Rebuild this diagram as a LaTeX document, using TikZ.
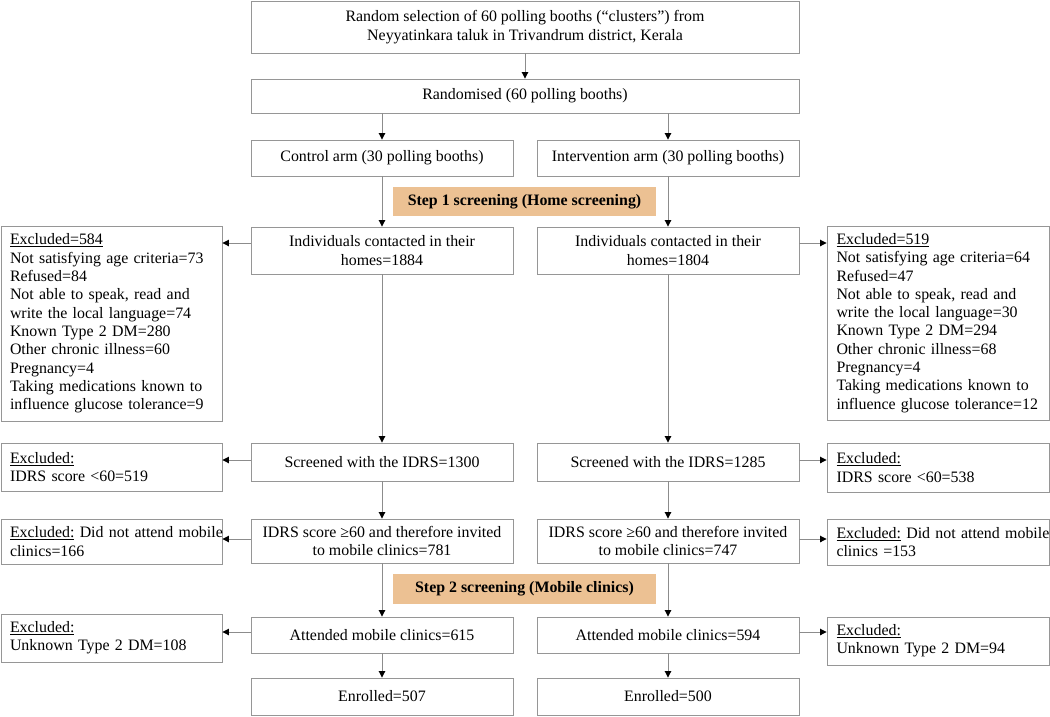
\documentclass[tikz,border=0pt]{standalone}
\usepackage{fontspec}
\setmainfont{Liberation Serif}
\usetikzlibrary{arrows.meta}
\definecolor{linegray}{RGB}{140,140,140}
\definecolor{boxgray}{RGB}{150,150,150}
\definecolor{steptan}{RGB}{236,193,147}
\begin{document}
\begin{tikzpicture}[x=1pt,y=-1pt,
  font=\fontsize{15.9pt}{18.3pt}\selectfont,
  box/.style={draw=boxgray, line width=0.9pt, inner sep=0pt, align=center},
  exbox/.style={box, align=left, text width=203pt},
  stepbox/.style={fill=steptan, inner sep=0pt, font=\fontsize{15.9pt}{18.3pt}\selectfont\bfseries},
  arr/.style={draw=linegray, line width=0.9pt, -{Triangle[length=6.5pt,width=6.5pt,color=black]}}
]
\useasboundingbox (0,0) rectangle (1050,716);

\node[box, minimum width=548pt, minimum height=52pt] (top) at (525,27) {Random selection of 60 polling booths (“clusters”) from\\Neyyatinkara taluk in Trivandrum district, Kerala};
\node[box, minimum width=548pt, minimum height=34pt] (rand) at (525,96) {Randomised (60 polling booths)};
\node[box, minimum width=262pt, minimum height=36pt] (ctrl) at (382,158) {Control arm (30 polling booths)};
\node[box, minimum width=262pt, minimum height=36pt] (intv) at (668,158) {Intervention arm (30 polling booths)};
\node[stepbox, minimum width=263pt, minimum height=29pt] (s1) at (524.5,201.5) {Step 1 screening (Home screening)};

\node[box, minimum width=262pt, minimum height=47pt] (indL) at (382,250.5) {Individuals contacted in their\\homes=1884};
\node[box, minimum width=262pt, minimum height=47pt] (indR) at (668,250.5) {Individuals contacted in their\\homes=1804};
\node[exbox, minimum width=221pt, minimum height=195pt] (exL1) at (111.5,323.5) {\underline{Excluded=584}\\Not satisfying age criteria=73\\Refused=84\\Not able to speak, read and\\write the local language=74\\Known Type 2 DM=280\\Other chronic illness=60\\Pregnancy=4\\Taking medications known to\\influence glucose tolerance=9};
\node[exbox, minimum width=222pt, minimum height=194pt] (exR1) at (938,323) {\underline{Excluded=519}\\Not satisfying age criteria=64\\Refused=47\\Not able to speak, read and\\write the local language=30\\Known Type 2 DM=294\\Other chronic illness=68\\Pregnancy=4\\Taking medications known to\\influence glucose tolerance=12};

\node[box, minimum width=262pt, minimum height=38pt] (scrL) at (382,462) {Screened with the IDRS=1300};
\node[box, minimum width=262pt, minimum height=38pt] (scrR) at (668,462) {Screened with the IDRS=1285};
\node[exbox, minimum width=221pt, minimum height=48pt] (exL2) at (111.5,467) {\underline{Excluded:}\\IDRS score <60=519};
\node[exbox, minimum width=222pt, minimum height=49pt] (exR2) at (938,467.5) {\underline{Excluded:}\\IDRS score <60=538};

\node[box, minimum width=262pt, minimum height=44pt] (idL) at (382,541) {IDRS score ≥60 and therefore invited\\to mobile clinics=781};
\node[box, minimum width=262pt, minimum height=44pt] (idR) at (668,541) {IDRS score ≥60 and therefore invited\\to mobile clinics=747};
\node[exbox, minimum width=221pt, minimum height=45pt] (exL3) at (111.5,541.5) {\mbox{\underline{Excluded:} Did not attend mobile}\\clinics=166};
\node[exbox, minimum width=222pt, minimum height=46pt] (exR3) at (938,542) {\mbox{\underline{Excluded:} Did not attend mobile}\\clinics =153};

\node[stepbox, minimum width=263pt, minimum height=30pt] (s2) at (524.5,589) {Step 2 screening (Mobile clinics)};

\node[box, minimum width=262pt, minimum height=36pt] (atL) at (382,635) {Attended mobile clinics=615};
\node[box, minimum width=262pt, minimum height=36pt] (atR) at (668,635) {Attended mobile clinics=594};
\node[exbox, minimum width=221pt, minimum height=48pt] (exL4) at (111.5,638) {\underline{Excluded:}\\Unknown Type 2 DM=108};
\node[exbox, minimum width=222pt, minimum height=48pt] (exR4) at (938,641) {\underline{Excluded:}\\Unknown Type 2 DM=94};

\node[box, minimum width=262pt, minimum height=37pt] (enL) at (382,696.5) {Enrolled=507};
\node[box, minimum width=262pt, minimum height=37pt] (enR) at (668,696.5) {Enrolled=500};

% vertical connectors
\draw[arr] (top.south) -- (rand.north);
\draw[arr] (rand.south -| ctrl.north) -- (ctrl.north);
\draw[arr] (rand.south -| intv.north) -- (intv.north);
\draw[arr] (ctrl.south) -- (indL.north);
\draw[arr] (intv.south) -- (indR.north);
\draw[arr] (indL.south) -- (scrL.north);
\draw[arr] (indR.south) -- (scrR.north);
\draw[arr] (scrL.south) -- (idL.north);
\draw[arr] (scrR.south) -- (idR.north);
\draw[arr] (idL.south) -- (atL.north);
\draw[arr] (idR.south) -- (atR.north);
\draw[arr] (atL.south) -- (enL.north);
\draw[arr] (atR.south) -- (enR.north);

% horizontal connectors
\draw[arr] ([yshift=7.5pt]indL.west) coordinate (h1) -- (h1 -| exL1.east);
\draw[arr] ([yshift=7.5pt]indR.east) coordinate (h2) -- (h2 -| exR1.west);
\draw[arr] ([yshift=2pt]scrL.west) coordinate (h3) -- (h3 -| exL2.east);
\draw[arr] ([yshift=2pt]scrR.east) coordinate (h4) -- (h4 -| exR2.west);
\draw[arr] ([yshift=2pt]idL.west) coordinate (h5) -- (h5 -| exL3.east);
\draw[arr] ([yshift=2pt]idR.east) coordinate (h6) -- (h6 -| exR3.west);
\draw[arr] ([yshift=3pt]atL.west) coordinate (h7) -- (h7 -| exL4.east);
\draw[arr] ([yshift=3pt]atR.east) coordinate (h8) -- (h8 -| exR4.west);
\end{tikzpicture}
\end{document}
